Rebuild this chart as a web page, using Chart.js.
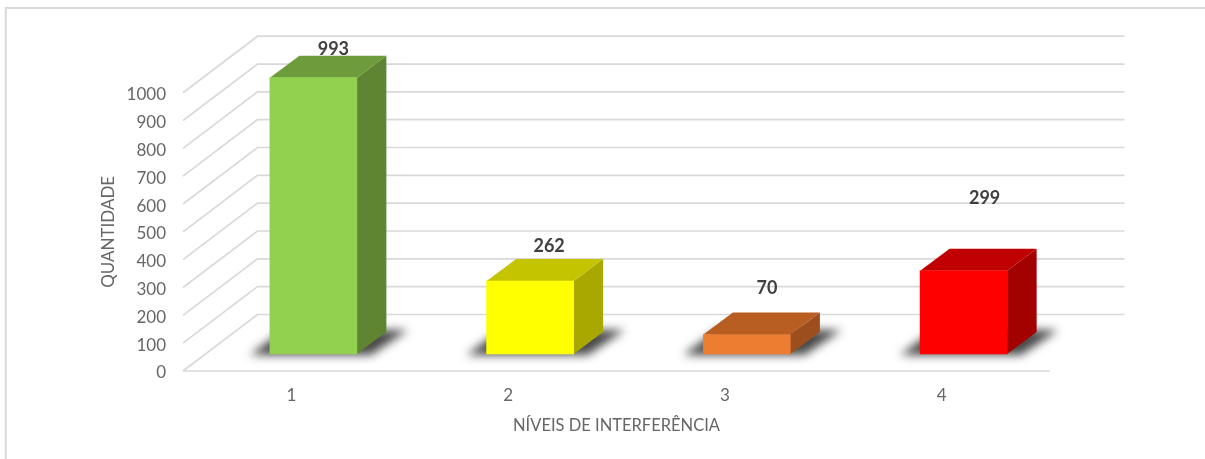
<!DOCTYPE html>
<html><head><meta charset="utf-8">
<style>html,body{margin:0;padding:0;background:#fff}#w{position:absolute;left:0;top:0;width:1205px;height:459px}</style>
<script src="https://cdn.jsdelivr.net/npm/chart.js@4"></script>
</head><body><div id="w"><canvas id="c" width="1205" height="459"></canvas></div>
<script>
const categories = ['1','2','3','4'];
const quantities = [993,262,70,299];
const frontColors = ['#92D050','#FFFF00','#ED7D31','#FF0000'];
const topColors = ['#6E9C3C','#C4C400','#B85E23','#C00000'];
const sideColors = ['#5F8432','#A8A800','#9C4F1D','#A30000'];
const labelShift = [[19.5,-29],[18.5,-35],[19.5,-47],[20.5,-73]];
const xTitle = 'NÍVEIS DE INTERFERÊNCIA';
const yTitle = 'QUANTIDADE';
const FONT = 'Lato';
const GRID = '#D9D9D9';
const wall = {dx:74.5, dy:-56.5};
const barOff = {dx:22, dy:-17};
const barDepth = {dx:29.5, dy:-22};

function poly(ctx, pts, fill){
  ctx.beginPath(); pts.forEach((p,i)=> i?ctx.lineTo(p[0],p[1]):ctx.moveTo(p[0],p[1]));
  ctx.closePath(); ctx.fillStyle=fill; ctx.fill();
}
const box3d = {
  id:'box3d',
  beforeDraw(chart){
    const ctx=chart.ctx, a=chart.chartArea, y=chart.scales.y;
    ctx.save();
    ctx.strokeStyle=GRID; ctx.lineWidth=2;
    ctx.beginPath();
    ctx.moveTo(5.8,459); ctx.lineTo(5.8,8); ctx.lineTo(1205,8);
    ctx.stroke();
    ctx.lineWidth=1.7;
    ctx.beginPath();
    y.ticks.forEach(t=>{
      const py=y.getPixelForValue(t.value);
      ctx.moveTo(a.left,py); ctx.lineTo(a.left+wall.dx,py+wall.dy); ctx.lineTo(a.right+wall.dx,py+wall.dy);
    });
    const p0=y.getPixelForValue(0);
    ctx.moveTo(a.left,p0); ctx.lineTo(a.right,p0);
    ctx.stroke();
    ctx.restore();
  },
  beforeDatasetDraw(chart,args){
    const ctx=chart.ctx;
    const bars=args.meta.data;
    ctx.save();
    ctx.translate(barOff.dx,barOff.dy);
    bars.forEach(b=>{
      const l=b.x-b.width/2, r=b.x+b.width/2, bt=b.base, off=3000;
      ctx.save();
      ctx.shadowColor='rgba(0,0,0,0.72)';
      ctx.shadowBlur=10;
      ctx.shadowOffsetX=off;
      poly(ctx,[[l-20-off,bt+1],[r+14-off,bt+1],[r+51-off,bt-24],[l+14-off,bt-24]],'#000');
      ctx.restore();
    });
    bars.forEach((b,i)=>{
      const l=b.x-b.width/2, r=b.x+b.width/2, t=b.y, bt=b.base;
      poly(ctx,[[r,t],[r+barDepth.dx,t+barDepth.dy],[r+barDepth.dx,bt+barDepth.dy],[r,bt]],sideColors[i]);
      poly(ctx,[[l,t],[l+barDepth.dx,t+barDepth.dy],[r+barDepth.dx,t+barDepth.dy],[r,t]],topColors[i]);
    });
  },
  afterDatasetDraw(chart){ chart.ctx.restore(); },
  afterDatasetsDraw(chart){
    const ctx=chart.ctx;
    const bars=chart.getDatasetMeta(0).data;
    ctx.save();
    ctx.font='bold 18px '+FONT; ctx.fillStyle='#404040';
    ctx.textAlign='center'; ctx.textBaseline='middle';
    bars.forEach((b,i)=>{
      ctx.fillText(String(quantities[i]), b.x+barOff.dx+labelShift[i][0]+0.5, b.y+barOff.dy+labelShift[i][1]+0.5);
    });
    ctx.restore();
  }
};
new Chart(document.getElementById('c'),{
  type:'bar',
  data:{labels:categories,datasets:[{data:quantities,backgroundColor:frontColors,borderWidth:0,barThickness:87,clip:false}]},
  plugins:[box3d],
  options:{
    responsive:false,animation:false,
    layout:{padding:{left:0,right:155,top:92.7,bottom:0}},
    plugins:{legend:{display:false},tooltip:{enabled:false},title:{display:false}},
    scales:{
      x:{
        afterFit(s){s.height=88;},
        grid:{display:false,drawTicks:false},border:{display:false},
        ticks:{color:'#666666',font:{family:FONT,size:17},padding:14.5,maxRotation:0},
        title:{display:true,text:xTitle,color:'#666666',font:{family:FONT,size:16.5},padding:{top:0,bottom:23}}
      },
      y:{
        min:0,max:1000,
        afterFit(s){s.width=183;},
        grid:{display:false,drawTicks:false},border:{display:false},
        ticks:{stepSize:100,color:'#666666',font:{family:FONT,size:17},padding:17,labelOffset:2,callback:v=>String(v)},
        title:{display:true,text:yTitle,color:'#666666',font:{family:FONT,size:17},padding:{top:98,bottom:0}}
      }
    }
  }
});
</script></body></html>
